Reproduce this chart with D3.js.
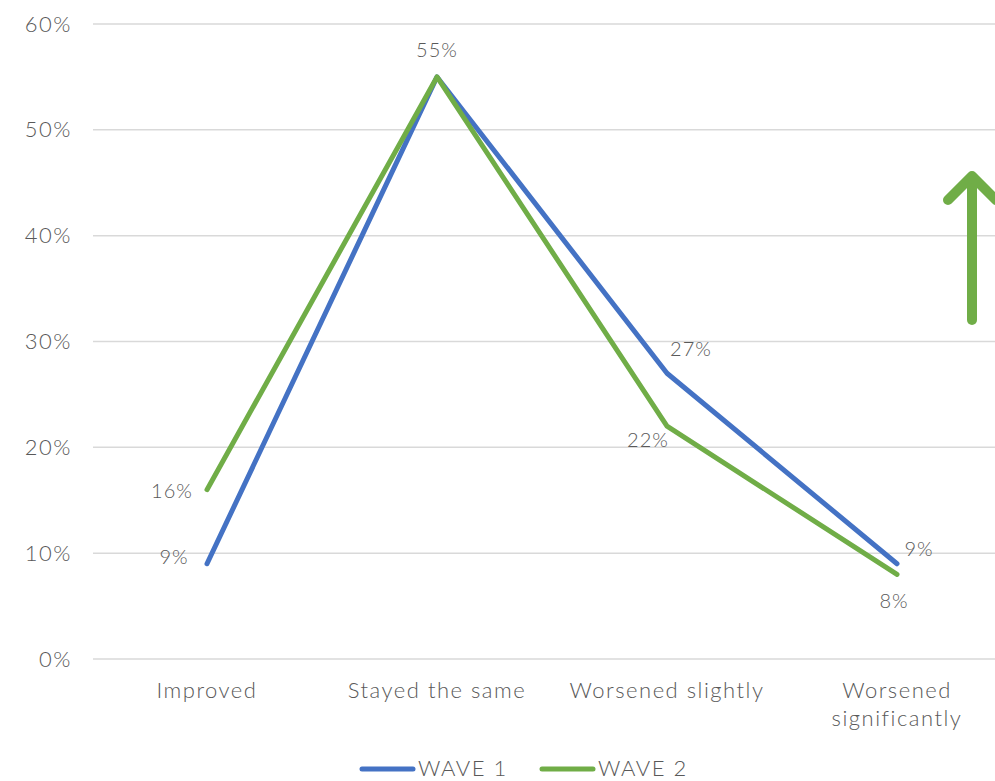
<!DOCTYPE html>
<html>
<head>
<meta charset="utf-8">
<script src="https://cdn.jsdelivr.net/npm/d3@7"></script>
<style>
  html, body { margin: 0; padding: 0; background: #fff; overflow: hidden; }
  svg { display: block; font-family: Lato, "Open Sans", sans-serif; font-weight: 300; }
</style>
</head>
<body>
<svg id="chart" width="995" height="781"></svg>
<script>
// Change compared between two survey waves
const categories = ["Improved", "Stayed the same", "Worsened slightly", "Worsened significantly"];
const wave1 = [9, 55, 27, 9];
const wave2 = [16, 55, 22, 8];
const yTicks = [0, 10, 20, 30, 40, 50, 60];
const seriesNames = ["WAVE 1", "WAVE 2"];
const colors = ["#4472C4", "#70AD47"];

const svg = d3.select("#chart");
const textColor = "#595959";

const x = d3.scalePoint().domain(categories).range([92, 1012]).padding(0.5);
const y = d3.scaleLinear().domain([0, 60]).range([659, 24]);

// Horizontal gridlines
svg.append("g").selectAll("line").data(yTicks).join("line")
  .attr("x1", 93).attr("x2", 1012)
  .attr("y1", d => y(d)).attr("y2", d => y(d))
  .attr("stroke", "#d9d9d9").attr("stroke-width", 1.5);

// Y-axis tick labels
const yAxis = d3.axisLeft(y).tickValues(yTicks).tickFormat(d => d + "%").tickSize(0).tickPadding(0);
const yg = svg.append("g").attr("transform", "translate(72,0)").call(yAxis);
yg.select(".domain").remove();
yg.selectAll("text").attr("fill", textColor).attr("font-size", 22)
  .attr("letter-spacing", 1.5)
  .attr("font-family", "Lato, 'Open Sans', sans-serif").attr("font-weight", 300);

// Category labels (wrapped onto two lines where needed)
const wrapMap = { "Worsened significantly": ["Worsened", "significantly"] };
const xg = svg.append("g");
categories.forEach(c => {
  const lines = wrapMap[c] || [c];
  const t = xg.append("text").attr("x", x(c)).attr("y", 698)
    .attr("text-anchor", "middle").attr("fill", textColor).attr("font-size", 22)
    .attr("letter-spacing", 1.5);
  lines.forEach((l, i) => t.append("tspan").attr("x", x(c)).attr("dy", i === 0 ? 0 : 28).text(l));
});

// Series lines
const line = d3.line().x((d, i) => x(categories[i])).y(d => y(d));
[wave1, wave2].forEach((s, k) => {
  svg.append("path").datum(s).attr("d", line)
    .attr("fill", "none").attr("stroke", colors[k]).attr("stroke-width", 5)
    .attr("stroke-linejoin", "round").attr("stroke-linecap", "round");
});

// Data labels with per-point offsets
const labelOffsets1 = [[-33, 0], [0, -20], [24, -17], [22, -8]];
const labelOffsets2 = [[-35, 8], null, [-19, 21], [-3, 34]];
function drawLabels(s, offs) {
  s.forEach((v, i) => {
    if (!offs[i]) return;
    svg.append("text")
      .attr("x", x(categories[i]) + offs[i][0])
      .attr("y", y(v) + offs[i][1])
      .attr("text-anchor", "middle").attr("fill", textColor).attr("font-size", 20)
      .attr("letter-spacing", 1)
      .text(v + "%");
  });
}
drawLabels(wave1, labelOffsets1);
drawLabels(wave2, labelOffsets2);

// Upward trend arrow
const arrow = svg.append("g").attr("stroke", "#70AD47").attr("stroke-width", 10)
  .attr("stroke-linecap", "round").attr("stroke-linejoin", "round").attr("fill", "none");
arrow.append("line").attr("x1", 972).attr("x2", 972).attr("y1", 320).attr("y2", 178);
arrow.append("polyline").attr("points", "948,200 972,176 996,200");

// Legend
const legend = svg.append("g");
const legendX = [360, 540];
seriesNames.forEach((n, k) => {
  legend.append("line").attr("x1", legendX[k] + 2).attr("x2", legendX[k] + 53)
    .attr("y1", 769).attr("y2", 769).attr("stroke", colors[k]).attr("stroke-width", 5)
    .attr("stroke-linecap", "round");
  legend.append("text").attr("x", legendX[k] + 58).attr("y", 776)
    .attr("fill", textColor).attr("font-size", 22).attr("letter-spacing", 1.5).text(n);
});
</script>
</body>
</html>
